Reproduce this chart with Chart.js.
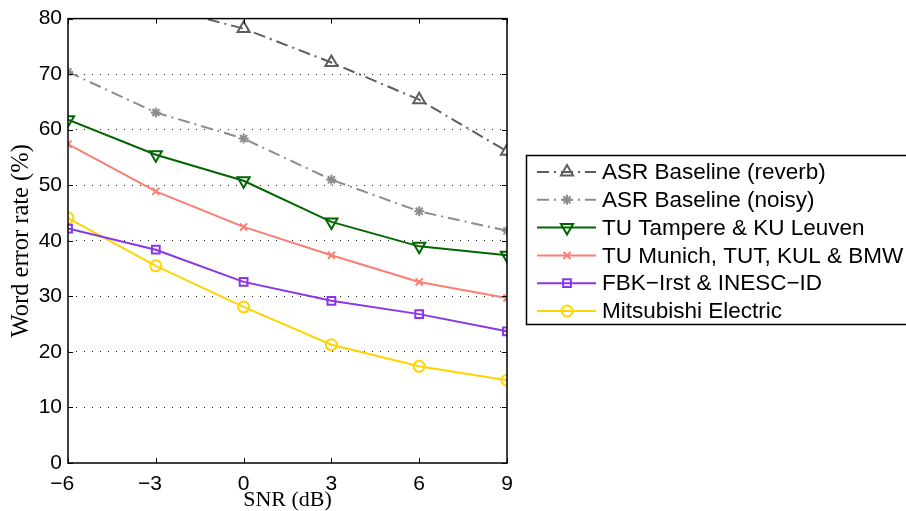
<!DOCTYPE html>
<html>
<head>
<meta charset="utf-8">
<script src="https://cdn.jsdelivr.net/npm/chart.js@4/dist/chart.umd.min.js"></script>
<style>
  html, body { margin: 0; padding: 0; background: #fff; }
  #wrap { width: 906px; height: 511px; }
</style>
</head>
<body>
<div id="wrap"><canvas id="chart" width="906" height="511"></canvas></div>
<script>
// SNR in dB along the x axis
const snr = [-6, -3, 0, 3, 6, 9];
const xTicks = [-6, -3, 0, 3, 6, 9];
const yTicks = [0, 10, 20, 30, 40, 50, 60, 70, 80];

// word error rate (%) per system
const reverbBaseline = [86.0, 82.3, 78.2, 72.1, 65.4, 56.1];
const noisyBaseline = [70.4, 63.1, 58.4, 51.0, 45.3, 41.8];
const tampereLeuven = [61.8, 55.5, 50.8, 43.4, 39.0, 37.4];
const munichTutKulBmw = [57.4, 48.9, 42.5, 37.4, 32.6, 29.7];
const fbkInesc = [42.2, 38.4, 32.6, 29.2, 26.8, 23.7];
const mitsubishi = [44.1, 35.5, 28.1, 21.3, 17.4, 14.9];

const seriesLabels = [
  'ASR Baseline (reverb)',
  'ASR Baseline (noisy)',
  'TU Tampere & KU Leuven',
  'TU Munich, TUT, KUL & BMW',
  'FBK\u2212Irst & INESC\u2212ID',
  'Mitsubishi Electric'
];

const sans = '"Liberation Sans", Arial, Helvetica, sans-serif';
const serif = '"Liberation Serif", "Times New Roman", serif';
const dashDot = [12, 5, 2, 5];

const toPoints = vals => vals.map((v, i) => ({ x: snr[i], y: v }));

function series (label, data, color, style, radius, extra) {
  return Object.assign({
    label,
    data: toPoints(data),
    borderColor: color,
    backgroundColor: 'rgba(0,0,0,0)',
    borderWidth: 2,
    pointStyle: style,
    pointRadius: radius,
    pointBorderColor: color,
    pointBackgroundColor: 'rgba(0,0,0,0)',
    pointBorderWidth: 2,
    tension: 0,
    fill: false
  }, extra || {});
}

const datasets = [
  series(seriesLabels[0], reverbBaseline, '#5e5e5e', 'triangle', 7, { borderDash: dashDot }),
  series(seriesLabels[1], noisyBaseline, '#8c8c8c', 'star', 5, { borderDash: dashDot }),
  series(seriesLabels[2], tampereLeuven, '#006600', 'triangle', 7, { pointRotation: 180 }),
  series(seriesLabels[3], munichTutKulBmw, '#fa7f72', 'crossRot', 5),
  series(seriesLabels[4], fbkInesc, '#8a35e6', 'rect', 5.5),
  series(seriesLabels[5], mitsubishi, '#ffd400', 'circle', 5.5)
];

// box around the plot with small inward ticks, like the original axes
const framePlugin = {
  id: 'frame',
  afterDatasetsDraw (chart) {
    const { ctx, chartArea: a, scales } = chart;
    ctx.save();
    ctx.strokeStyle = '#000';
    ctx.lineWidth = 1.5;
    ctx.setLineDash([]);
    ctx.strokeRect(a.left, a.top, a.right - a.left, a.bottom - a.top);
    ctx.lineWidth = 1;
    ctx.beginPath();
    xTicks.forEach(t => {
      const x = Math.round(scales.x.getPixelForValue(t)) + 0.5;
      ctx.moveTo(x, a.bottom); ctx.lineTo(x, a.bottom - 5);
      ctx.moveTo(x, a.top); ctx.lineTo(x, a.top + 5);
    });
    yTicks.forEach(t => {
      const y = Math.round(scales.y.getPixelForValue(t)) + 0.5;
      ctx.moveTo(a.left, y); ctx.lineTo(a.left + 5, y);
      ctx.moveTo(a.right, y); ctx.lineTo(a.right - 5, y);
    });
    ctx.stroke();
    ctx.restore();
  }
};

// legend in a framed box to the right of the plot
const legendPlugin = {
  id: 'boxLegend',
  afterDraw (chart) {
    const { ctx } = chart;
    const left = 526, top = 155, bottom = 324;
    ctx.save();
    ctx.fillStyle = '#fff';
    ctx.fillRect(left, top, 400, bottom - top);
    ctx.strokeStyle = '#000';
    ctx.lineWidth = 1.5;
    ctx.strokeRect(left + 0.5, top + 0.5, 400, bottom - top);
    chart.data.datasets.forEach((ds, i) => {
      const y = 172 + i * 27.8;
      ctx.strokeStyle = ds.borderColor;
      ctx.lineWidth = ds.borderWidth;
      ctx.setLineDash(ds.borderDash || []);
      ctx.beginPath();
      ctx.moveTo(537, y);
      ctx.lineTo(596, y);
      ctx.stroke();
      ctx.setLineDash([]);
      ctx.fillStyle = 'rgba(0,0,0,0)';
      Chart.helpers.drawPoint(ctx, {
        pointStyle: ds.pointStyle,
        rotation: ds.pointRotation || 0,
        radius: ds.pointRadius,
        borderWidth: ds.pointBorderWidth
      }, 567, y);
      ctx.fillStyle = '#000';
      ctx.font = '22.5px ' + sans;
      ctx.textBaseline = 'middle';
      ctx.textAlign = 'left';
      ctx.fillText(ds.label, 602, y + 1);
    });
    ctx.restore();
  }
};

new Chart(document.getElementById('chart'), {
  type: 'line',
  data: { datasets },
  plugins: [framePlugin, legendPlugin],
  options: {
    responsive: false,
    animation: false,
    events: [],
    layout: { padding: { top: 16, right: 399, left: 0, bottom: 0 } },
    plugins: {
      legend: { display: false },
      tooltip: { enabled: false }
    },
    scales: {
      x: {
        type: 'linear',
        min: -6,
        max: 9,
        afterBuildTicks: scale => { scale.ticks = xTicks.map(v => ({ value: v })); },
        afterFit: scale => { scale.height = 48; },
        grid: { display: false, drawTicks: false },
        border: { display: false },
        ticks: {
          color: '#000',
          padding: 9,
          font: { family: sans, size: 21 },
          maxRotation: 0,
          // keep the digit over the tick, the minus hangs to the left
          callback: v => v < 0 ? '\u2212' + Math.abs(v) + '  ' : String(v)
        },
        title: {
          display: true,
          text: 'SNR (dB)',
          color: '#000',
          font: { family: serif, size: 22, lineHeight: 1 },
          padding: { top: 0, bottom: 0 }
        }
      },
      y: {
        type: 'linear',
        min: 0,
        max: 80,
        afterBuildTicks: scale => { scale.ticks = yTicks.map(v => ({ value: v })); },
        afterFit: scale => { scale.width = 68; },
        grid: {
          drawTicks: false,
          color: ctx => (ctx.tick && (ctx.tick.value === 0 || ctx.tick.value === 80)) ? 'rgba(0,0,0,0)' : '#222',
          lineWidth: 1
        },
        border: { display: false, dash: [1, 7] },
        ticks: {
          color: '#000',
          padding: 6,
          font: { family: sans, size: 21 }
        },
        title: {
          display: true,
          text: 'Word error rate (%)',
          color: '#000',
          font: { family: serif, size: 24.5, lineHeight: 1 },
          padding: { top: 9, bottom: 0 }
        }
      }
    }
  }
});
</script>
</body>
</html>
